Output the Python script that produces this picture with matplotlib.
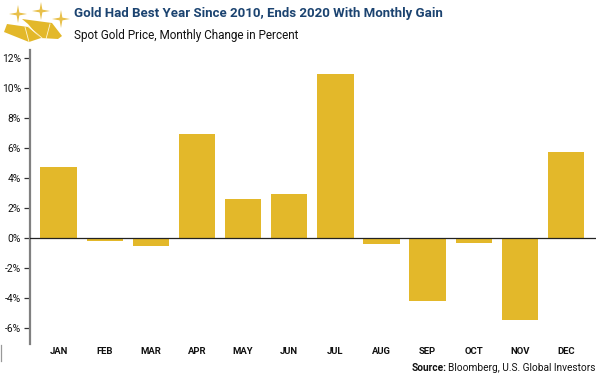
import matplotlib
matplotlib.use("Agg")
import matplotlib.pyplot as plt
from matplotlib.patches import Polygon
from matplotlib.transforms import Affine2D

months = ["JAN", "FEB", "MAR", "APR", "MAY", "JUN", "JUL", "AUG", "SEP", "OCT", "NOV", "DEC"]
changes = [4.75, -0.2, -0.55, 6.95, 2.6, 2.9, 10.9, -0.4, -4.2, -0.35, -5.45, 5.7]
yticks = [-6, -4, -2, 0, 2, 4, 6, 8, 10, 12]
ylabels = ["-6%", "-4%", "-2%", "0%", "2%", "4%", "6%", "8%", "10%", "12%"]
title = "Gold Had Best Year Since 2010, Ends 2020 With Monthly Gain"
subtitle = "Spot Gold Price, Monthly Change in Percent"
source_bold = "Source:"
source_rest = "Bloomberg, U.S. Global Investors"

W, H = 600, 377
GOLD = "#E3B82A"
NAVY = "#1B4370"
plt.rcParams["font.family"] = ["Roboto", "DejaVu Sans"]

fig = plt.figure(figsize=(W / 100, H / 100), dpi=100, facecolor="white")
ax = fig.add_axes([30 / W, 1 - 344 / H, 566 / W, 294 / H])
x = list(range(len(months)))
ax.bar(x, changes, width=0.79, color=GOLD, zorder=2)
ax.set_xlim(-0.62, 11.65)
ax.set_ylim(-7.07, 12.53)
ax.set_yticks(yticks)
ax.set_yticklabels(ylabels, fontsize=7.4, color="#111111")
ax.set_xticks(x)
ax.set_xticklabels(months, fontsize=6.8, color="#111111", fontweight="bold")
ax.tick_params(axis="x", length=0, pad=2)
ax.tick_params(axis="y", length=4.3, width=0.9, color="#333333", pad=2)
for s in ("top", "right", "bottom"):
    ax.spines[s].set_visible(False)
ax.spines["left"].set_color("#808080")
ax.spines["left"].set_linewidth(1.6)
ax.axhline(0, color="#222222", lw=0.9, zorder=3)

px = Affine2D().scale(1, -1).translate(0, H)  # reference pixel coordinates
def txt(xp, yp, s, **kw):
    fig.text(xp / W, 1 - yp / H, s, va="center", **kw)

txt(74, 14, title, fontsize=9.5, fontweight="bold", color=NAVY)
txt(74, 35, subtitle, fontsize=8.5, color="#111111")
src = fig.text(595 / W, 1 - 368 / H, source_rest, ha="right", va="center", fontsize=7.25, color="#111111")
fig.canvas.draw()
bb = src.get_window_extent()
fig.text((bb.x0 - 1) / W, 1 - 368 / H, source_bold, ha="right", va="center", fontsize=7.25, fontweight="bold", color="#111111")

# stray mark at the left edge
fig.add_artist(plt.Line2D([0.5, 0.5], [345, 361], color="#999999", lw=0.9, transform=px))

# gold-bar icon
icon_bars = [
    [(22, 19), (52, 23), (62, 36), (58, 39), (40, 38), (28, 24)],
    [(7, 24), (28, 27), (41, 38), (29, 42), (4, 32)],
]
for pts in icon_bars:
    fig.add_artist(Polygon(pts, closed=True, fc=GOLD, ec="none", transform=px))
for a, b in [((25, 27), (29, 42)), ((50, 24), (46, 39)), ((28, 26), (42, 38))]:
    fig.add_artist(plt.Line2D([a[0], b[0]], [a[1], b[1]], color="#FFF6D8", lw=0.6, transform=px))
for cx, cy, r in [(18, 14, 9), (41, 11, 9), (61, 19, 9)]:
    for sx, sy in [(1, 0.18), (0.18, 1)]:
        fig.add_artist(Polygon([(cx - r * sx, cy), (cx, cy - r * sy), (cx + r * sx, cy), (cx, cy + r * sy)],
                               closed=True, fc="#E8C04A", ec="none", transform=px))

fig.savefig("out.png", dpi=100, facecolor="white")
